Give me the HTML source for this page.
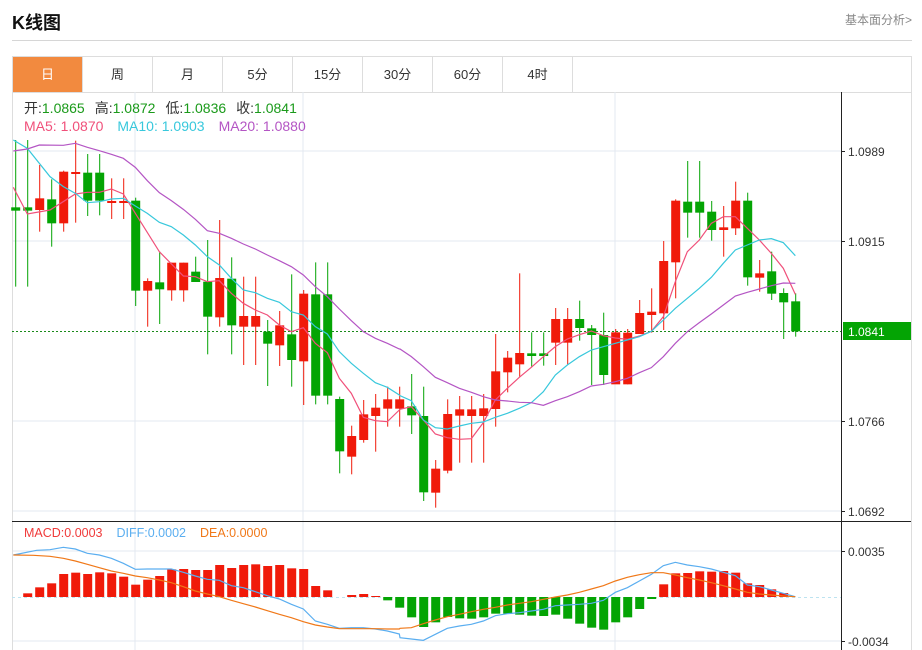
<!DOCTYPE html>
<html><head><meta charset="utf-8"><style>
body{margin:0;background:#fff;width:922px;height:650px;overflow:hidden;position:relative;font-family:"Liberation Sans","Noto Sans CJK SC",sans-serif}
.t{position:absolute;left:12px;top:9px;font-size:18px;font-weight:bold;color:#111}
.r{position:absolute;right:10px;top:11px;font-size:12px;color:#888}
.sep{position:absolute;left:12px;top:40px;width:900px;height:1px;background:#d6d6d6}
.tabs{position:absolute;left:12px;top:56px;width:898px;height:35px;border:1px solid #ddd;border-bottom:1px solid #ddd}
.tab{position:absolute;top:0;width:69px;height:35px;border-right:1px solid #ddd;text-align:center;line-height:35px;font-size:13px;color:#333}
svg{position:absolute;left:0;top:0}
</style></head><body>
<div class="t">K线图</div><div class="r">基本面分析&gt;</div>
<div class="sep"></div>
<div class="tabs">
<div class="tab" style="left:0;background:#f28a3f;color:#fff">日</div>
<div class="tab" style="left:70px">周</div>
<div class="tab" style="left:140px">月</div>
<div class="tab" style="left:210px">5分</div>
<div class="tab" style="left:280px">15分</div>
<div class="tab" style="left:350px">30分</div>
<div class="tab" style="left:420px">60分</div>
<div class="tab" style="left:490px">4时</div>
</div>
<svg id="s" width="922" height="650" xmlns="http://www.w3.org/2000/svg"></svg>
<script>
var s=document.getElementById('s'),h='';
function L(x1,y1,x2,y2,c,w,d){h+='<line x1="'+x1+'" y1="'+y1+'" x2="'+x2+'" y2="'+y2+'" stroke="'+c+'" stroke-width="'+(w||1)+'"'+(d?' stroke-dasharray="'+d+'"':'')+'/>';}
function T(x,y,t,c,sz,a){h+='<text x="'+x+'" y="'+y+'" fill="'+c+'" font-size="'+(sz||12)+'"'+(a?' text-anchor="'+a+'"':'')+'>'+t+'</text>';}
var G='#e3e9f0';
[151,241,421,511].forEach(function(y){L(12,y,841,y,G)});
[135,303,615].forEach(function(x){L(x,92,x,650,G)});
[551,641].forEach(function(y){L(12,y,841,y,G)});
L(12.5,92,12.5,650,'#ddd');L(911.5,92,911.5,650,'#ddd');
L(841.5,92,841.5,650,'#222');L(12,521.5,911,521.5,'#222');
L(12,331.5,841,331.5,'#1a8a1a',1,'2,2');
L(12,597.5,841,597.5,'#bde3f0',1,'3,3');
var C=[['g',30,470,232,242],['g',30,470,232,242],['r',105,305,205,240],['g',148,350,208,280],['r',122,305,125,280],['r',32,278,126,129],['g',72,258,128,212],['g',72,256,128,212],['r',145,267,213,219],['r',145,267,213,219],['g',203,528,212,482],['r',445,590,453,482],['g',365,582,457,478],['r',398,512,398,481],['r',398,515,398,481],['g',380,456,425,456],['g',330,673,455,560],['r',270,590,444,562],['g',382,673,446,586],['r',440,705,558,590],['r',440,705,558,590],['g',570,768,605,641],['r',543,708,586,646],['g',433,770,613,690],['r',480,825,491,694],['g',397,823,493,797],['g',397,823,493,797],['g',800,1030,807,964],['r',887,1033,918,980],['r',810,938,853,930],['r',792,965,833,858],['r',770,890,808,836],['r',770,890,808,836],['g',732,912,829,856],['g',770,1113,858,1087],['r',990,1133,1016,1088],['r',808,1030,852,1022],['r',798,998,838,857],['r',798,998,838,858],['r',792,998,835,858],['r',612,890,724,837],['r',663,787,683,727],['r',430,740,669,703],['g',607,710,670,678],['g',607,707,670,678],['r',534,705,567,638],['r',534,705,567,638],['g',512,632,567,594],['g',585,765,595,615],['g',548,765,615,735],['r',597,762,607,763],['r',597,763,608,763],['r',510,612,549,612],['r',475,608,545,555],['r',333,600,393,550],['r',208,505,212,397],['g',93,323,215,248],['g',93,323,215,248],['g',213,332,245,300],['r',228,380,292,300],['r',155,315,212,295],['g',188,467,212,442],['r',390,485,430,443],['g',365,510,424,491],['g',475,627,489,517],['g',490,620,514,604]];
function Y(z){return z/3+130}
C.forEach(function(c,i){var x=15.7+12*i,col=c[0]=='r'?'#f01a0a':'#04a404';
L(x,Y(c[1]),x,Y(c[2]),col,1);var t=Y(c[3]),b=Y(c[4]);if(b-t<2)b=t+2;
h+='<rect x="'+(x-4.5)+'" y="'+t+'" width="9" height="'+(b-t)+'" fill="'+col+'"/>';});
function P(a1,a2,col,base){var pts=[];a1.forEach(function(p){pts.push((p[0]/3)+','+(p[1]/3+base))});a2.forEach(function(p){pts.push((p[0]/3+400)+','+(p[1]/3+base))});
h+='<polyline fill="none" stroke="'+col+'" stroke-width="1.2" points="'+pts.join(' ')+'"/>';}
P([[40,172],[82,252],[150,240],[226,192],[262,187],[298,187],[334,177],[370,192],[406,250],[478,365],[550,438],[586,440],[622,455],[658,452],[694,490],[730,520],[766,540],[802,555],[838,585],[874,605],[910,593],[946,640],[982,668],[1018,745],[1054,790],[1090,862],[1126,872],[1162,875],[1198,840]],
[[0,838],[34,830],[70,870],[106,912],[142,923],[178,928],[214,926],[250,878],[286,810],[322,775],[358,742],[394,712],[430,680],[466,650],[502,627],[538,614],[574,603],[610,617],[646,624],[682,628],[718,618],[754,604],[790,560],[826,455],[862,365],[898,330],[934,280],[970,260],[1006,260],[1042,295],[1078,330],[1114,370],[1150,415],[1186,493]],'#f0507a',130);
P([[40,30],[82,55],[150,140],[190,170],[226,190],[262,218],[298,215],[334,207],[370,205],[406,228],[442,250],[478,277],[514,290],[550,315],[586,345],[622,380],[658,405],[694,445],[730,480],[766,488],[802,505],[838,517],[874,545],[910,555],[946,590],[982,612],[1018,665],[1054,700],[1090,730],[1126,758],[1162,772],[1198,795]],
[[0,797],[34,812],[70,870],[106,893],[142,897],[178,888],[214,880],[250,876],[286,862],[322,850],[358,835],[394,818],[430,785],[466,735],[502,705],[538,680],[574,660],[610,650],[646,640],[682,630],[718,620],[754,604],[790,570],[826,535],[862,505],[898,475],[934,442],[970,400],[1006,360],[1042,345],[1078,330],[1114,326],[1150,338],[1186,377]],'#38c8dc',130);
P([[40,63],[82,57],[118,45],[190,46],[226,40],[262,52],[298,62],[334,73],[370,85],[406,112],[442,152],[478,188],[514,212],[550,238],[586,268],[622,302],[658,310],[694,325],[730,342],[766,357],[802,375],[838,392],[874,410],[910,435],[946,470],[982,500],[1018,537],[1054,572],[1090,605],[1126,625],[1162,640],[1198,657]],
[[0,657],[34,680],[70,710],[106,742],[142,758],[178,775],[214,787],[250,800],[286,810],[322,813],[358,817],[394,818],[430,826],[466,812],[502,800],[538,785],[574,768],[610,763],[646,755],[682,745],[718,728],[754,713],[790,680],[826,640],[862,605],[898,578],[934,552],[970,525],[1006,498],[1042,487],[1078,477],[1114,467],[1150,459],[1186,460]],'#b455c4',130);
var M=[245,235,217,205,177,173,177,172,175,185,209,194,183,163,162,165,165,150,159,150,148,153,150,160,162,213,226,245,240,237,243,256,278,307,336,322,306,310,311,307,296,296,299,302,303,299,311,326,338,344,322,307,282,252,208,175,174,169,170,168,173,205,210,223,234,245];
M.forEach(function(v,i){var x=15.7+12*i,y=v/3+515,z=597;if(Math.abs(y-z)<0.5)return;
var col=y<z?'#f01a0a':'#04a404',t=Math.min(y,z),b=Math.max(y,z);h+='<rect x="'+(x-4.5)+'" y="'+t+'" width="9" height="'+(b-t)+'" fill="'+col+'"/>';});
P([[40,120],[110,106],[150,104],[190,97],[226,102],[262,115],[298,120],[334,130],[370,145],[406,163],[442,162],[514,162],[550,172],[586,183],[622,193],[658,196],[694,212],[730,218],[766,230],[802,242],[838,252],[874,268],[910,282],[946,318],[982,328],[1018,340],[1054,338],[1090,338],[1126,342],[1162,348],[1198,357]],
[[0,368],[34,372],[70,376],[106,358],[142,340],[178,333],[214,328],[250,318],[286,302],[322,296],[358,293],[394,288],[430,283],[466,272],[502,270],[538,268],[574,265],[610,256],[646,232],[682,218],[718,198],[754,178],[790,152],[826,142],[862,150],[898,155],[934,162],[970,172],[1006,182],[1042,210],[1078,215],[1114,225],[1150,235],[1186,245]],'#5aaef0',515);
P([[40,120],[100,121],[150,124],[190,130],[226,138],[262,148],[298,158],[334,168],[370,175],[406,183],[442,188],[478,195],[514,203],[550,215],[586,228],[622,237],[658,245],[694,256],[730,266],[766,276],[802,287],[838,298],[874,308],[910,320],[946,330],[982,336],[1018,341],[1054,341],[1090,341],[1126,341],[1162,342],[1198,342]],
[[0,340],[34,338],[70,326],[106,315],[142,305],[178,298],[214,290],[250,283],[286,277],[322,270],[358,265],[394,260],[430,253],[466,246],[502,240],[538,232],[574,222],[610,212],[646,198],[682,187],[718,179],[754,173],[790,173],[826,180],[862,188],[898,195],[934,203],[970,212],[1006,222],[1042,232],[1078,237],[1114,240],[1150,243],[1186,245]],'#f07818',515);
[[151,'1.0989'],[241,'1.0915'],[421,'1.0766'],[511,'1.0692'],[551,'0.0035'],[641,'-0.0034']].forEach(function(a){L(841,a[0]+0.5,845,a[0]+0.5,'#222');T(848,a[0]+5,a[1],'#333',12);});
h+='<rect x="843" y="322" width="68" height="18" fill="#04a404"/>';T(848,336,'1.0841','#fff',12);
h+='<text x="24" y="113" font-size="14"><tspan fill="#333">开:</tspan><tspan fill="#1a9a1a">1.0865</tspan><tspan fill="#333" dx="10">高:</tspan><tspan fill="#1a9a1a">1.0872</tspan><tspan fill="#333" dx="10">低:</tspan><tspan fill="#1a9a1a">1.0836</tspan><tspan fill="#333" dx="10">收:</tspan><tspan fill="#1a9a1a">1.0841</tspan></text>';
h+='<text x="24" y="131" font-size="14"><tspan fill="#f0507a">MA5: 1.0870</tspan><tspan fill="#38c8dc" dx="14">MA10: 1.0903</tspan><tspan fill="#b455c4" dx="14">MA20: 1.0880</tspan></text>';
h+='<text x="24" y="537" font-size="12.5"><tspan fill="#f03a3a">MACD:0.0003</tspan><tspan fill="#5aaef0" dx="14">DIFF:0.0002</tspan><tspan fill="#f07818" dx="14">DEA:0.0000</tspan></text>';
s.innerHTML=h;
</script>
</body></html>
